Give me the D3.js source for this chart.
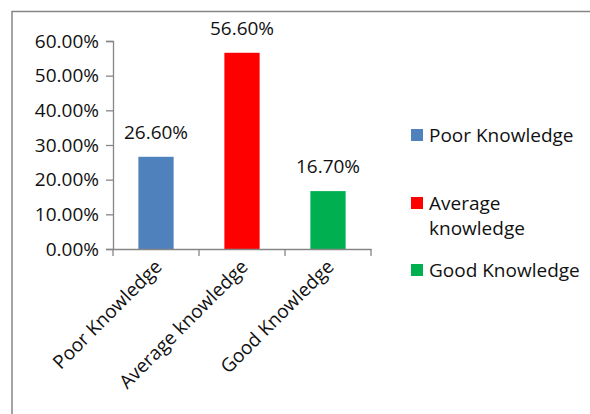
<!DOCTYPE html>
<html>
<head>
<meta charset="utf-8">
<script src="https://cdn.jsdelivr.net/npm/d3@7"></script>
<style>
  html, body { margin: 0; padding: 0; background: #fff; }
  svg { display: block; }
  text { font-family: "Open Sans", "Liberation Sans", sans-serif; fill: #111; }
</style>
</head>
<body>
<script>
const categories = ["Poor Knowledge", "Average knowledge", "Good Knowledge"];
const values = [0.266, 0.566, 0.167];
const colors = ["#4f81bd", "#ff0000", "#00b050"];
const yTicks = [0, 0.1, 0.2, 0.3, 0.4, 0.5, 0.6];
const legendLabels = [["Poor Knowledge"], ["Average", "knowledge"], ["Good Knowledge"]];

const W = 590, H = 414;
const fs = 19;
const svg = d3.select("body").append("svg").attr("width", W).attr("height", H);

// outer chart frame
svg.append("path")
  .attr("d", `M12,${H + 2} L12,11.5 L${W + 2},11.5`)
  .attr("fill", "none").attr("stroke", "#868686").attr("stroke-width", 1.5);

const x = d3.scaleBand().domain(categories).range([113, 371]).paddingInner(0.59).paddingOuter(0.295);
const y = d3.scaleLinear().domain([0, 0.6]).range([249, 41]);

// bars
svg.selectAll("rect.bar").data(categories).join("rect")
  .attr("class", "bar")
  .attr("x", d => x(d))
  .attr("width", x.bandwidth())
  .attr("y", (d, i) => y(values[i]))
  .attr("height", (d, i) => y(0) - y(values[i]))
  .attr("fill", (d, i) => colors[i]);

// y axis
const yAxis = svg.append("g").attr("transform", "translate(113,0)")
  .call(d3.axisLeft(y).tickValues(yTicks).tickFormat(d3.format(".2%")).tickSize(7).tickPadding(7));
yAxis.select(".domain").attr("stroke", "#868686").attr("stroke-width", 1.3);
yAxis.selectAll(".tick line").attr("stroke", "#868686").attr("stroke-width", 1.3);
yAxis.selectAll(".tick text").attr("font-size", fs).attr("font-family", "Open Sans").attr("fill", "#111");

// x axis
const xAxis = svg.append("g").attr("transform", "translate(0,249)")
  .call(d3.axisBottom(x).tickSize(0).tickSizeOuter(0).tickFormat(""));
xAxis.select(".domain").attr("stroke", "#868686").attr("stroke-width", 1.3);
// category boundary ticks
const edges = [113, ...categories.map(c => x(c) + x.bandwidth() + (x.step() - x.bandwidth()) / 2)];
xAxis.selectAll("line.edge").data(edges).join("line")
  .attr("class", "edge")
  .attr("x1", d => d).attr("x2", d => d)
  .attr("y1", 0).attr("y2", 7)
  .attr("stroke", "#868686").attr("stroke-width", 1.3);

// x labels rotated
svg.selectAll("text.xlab").data(categories).join("text")
  .attr("class", "xlab")
  .attr("font-size", fs)
  .attr("text-anchor", "end")
  .attr("transform", d => `translate(${x(d) + x.bandwidth() / 2 + 7},${268}) rotate(-45)`)
  .text(d => d);

// data labels
svg.selectAll("text.vlab").data(categories).join("text")
  .attr("class", "vlab")
  .attr("font-size", fs)
  .attr("text-anchor", "middle")
  .attr("x", d => x(d) + x.bandwidth() / 2)
  .attr("y", (d, i) => y(values[i]) - 18)
  .text((d, i) => d3.format(".2%")(values[i]));

// legend
const legY = [135, 203, 270];
const leg = svg.selectAll("g.leg").data(categories).join("g")
  .attr("class", "leg")
  .attr("transform", (d, i) => `translate(411,${legY[i]})`);
leg.append("rect").attr("x", 0).attr("y", -6).attr("width", 12).attr("height", 12)
  .attr("fill", (d, i) => colors[i]);
leg.each(function (d, i) {
  const t = d3.select(this).append("text").attr("font-size", fs).attr("x", 18).attr("y", 7);
  legendLabels[i].forEach((line, j) => {
    t.append("tspan").attr("x", 18).attr("dy", j === 0 ? 0 : 25).text(line);
  });
});
</script>
</body>
</html>
